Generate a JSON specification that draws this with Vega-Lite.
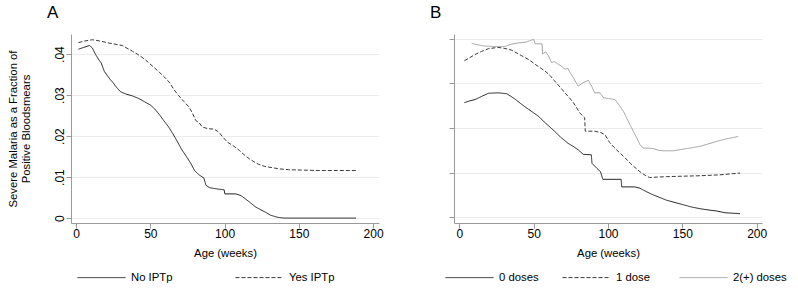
{
  "$schema": "https://vega.github.io/schema/vega-lite/v6.json",
  "background": "white",
  "padding": {"left": 7, "top": 4, "right": 0, "bottom": 0},
  "config": {
    "font": "Liberation Sans",
    "view": {"stroke": null},
    "axis": {
      "domainColor": "#9a9a9a",
      "tickColor": "#9a9a9a",
      "tickSize": 5,
      "labelColor": "#000000",
      "labelFontSize": 12,
      "titleColor": "#000000",
      "titleFontSize": 11.3,
      "titleFontWeight": "normal",
      "gridColor": "#ececec",
      "gridWidth": 1
    },
    "legend": {
      "labelFontSize": 11.3,
      "labelColor": "#000000"
    },
    "title": {"fontSize": 17, "fontWeight": "normal", "color": "#000000", "anchor": "start", "frame": "group"}
  },
  "datasets": {
    "a": [
      {"week": 1.6, "value": 0.0412, "group": "No IPTp"},
      {"week": 5, "value": 0.0416, "group": "No IPTp"},
      {"week": 9, "value": 0.0421, "group": "No IPTp"},
      {"week": 11, "value": 0.0415, "group": "No IPTp"},
      {"week": 13, "value": 0.04, "group": "No IPTp"},
      {"week": 15, "value": 0.0388, "group": "No IPTp"},
      {"week": 17, "value": 0.0378, "group": "No IPTp"},
      {"week": 19, "value": 0.0358, "group": "No IPTp"},
      {"week": 21, "value": 0.0348, "group": "No IPTp"},
      {"week": 23, "value": 0.0338, "group": "No IPTp"},
      {"week": 25, "value": 0.033, "group": "No IPTp"},
      {"week": 27, "value": 0.032, "group": "No IPTp"},
      {"week": 30, "value": 0.0308, "group": "No IPTp"},
      {"week": 34, "value": 0.0302, "group": "No IPTp"},
      {"week": 38, "value": 0.0298, "group": "No IPTp"},
      {"week": 42, "value": 0.0292, "group": "No IPTp"},
      {"week": 46, "value": 0.0284, "group": "No IPTp"},
      {"week": 50, "value": 0.0276, "group": "No IPTp"},
      {"week": 53, "value": 0.0266, "group": "No IPTp"},
      {"week": 56, "value": 0.0253, "group": "No IPTp"},
      {"week": 59, "value": 0.0238, "group": "No IPTp"},
      {"week": 62, "value": 0.0224, "group": "No IPTp"},
      {"week": 65, "value": 0.0207, "group": "No IPTp"},
      {"week": 68, "value": 0.0188, "group": "No IPTp"},
      {"week": 71, "value": 0.0168, "group": "No IPTp"},
      {"week": 74, "value": 0.0152, "group": "No IPTp"},
      {"week": 77, "value": 0.0135, "group": "No IPTp"},
      {"week": 80, "value": 0.0115, "group": "No IPTp"},
      {"week": 83, "value": 0.0105, "group": "No IPTp"},
      {"week": 86, "value": 0.0098, "group": "No IPTp"},
      {"week": 87.5, "value": 0.008, "group": "No IPTp"},
      {"week": 90, "value": 0.0074, "group": "No IPTp"},
      {"week": 95, "value": 0.0071, "group": "No IPTp"},
      {"week": 99.7, "value": 0.0069, "group": "No IPTp"},
      {"week": 100.2, "value": 0.0059, "group": "No IPTp"},
      {"week": 107.5, "value": 0.0059, "group": "No IPTp"},
      {"week": 111, "value": 0.0055, "group": "No IPTp"},
      {"week": 114, "value": 0.0047, "group": "No IPTp"},
      {"week": 117.5, "value": 0.0037, "group": "No IPTp"},
      {"week": 121, "value": 0.0027, "group": "No IPTp"},
      {"week": 124.5, "value": 0.002, "group": "No IPTp"},
      {"week": 127.7, "value": 0.0014, "group": "No IPTp"},
      {"week": 131, "value": 0.0007, "group": "No IPTp"},
      {"week": 135.6, "value": 0.0002, "group": "No IPTp"},
      {"week": 140, "value": 0.0, "group": "No IPTp"},
      {"week": 160, "value": 0.0, "group": "No IPTp"},
      {"week": 175, "value": 0.0, "group": "No IPTp"},
      {"week": 188.5, "value": 0.0, "group": "No IPTp"},
      {"week": 1.6, "value": 0.0428, "group": "Yes IPTp"},
      {"week": 6, "value": 0.0432, "group": "Yes IPTp"},
      {"week": 11, "value": 0.0435, "group": "Yes IPTp"},
      {"week": 16, "value": 0.0432, "group": "Yes IPTp"},
      {"week": 22, "value": 0.0427, "group": "Yes IPTp"},
      {"week": 31, "value": 0.0421, "group": "Yes IPTp"},
      {"week": 38, "value": 0.0407, "group": "Yes IPTp"},
      {"week": 43, "value": 0.0396, "group": "Yes IPTp"},
      {"week": 47, "value": 0.0385, "group": "Yes IPTp"},
      {"week": 52, "value": 0.0369, "group": "Yes IPTp"},
      {"week": 56, "value": 0.0356, "group": "Yes IPTp"},
      {"week": 59.5, "value": 0.0344, "group": "Yes IPTp"},
      {"week": 62.6, "value": 0.0332, "group": "Yes IPTp"},
      {"week": 66, "value": 0.0313, "group": "Yes IPTp"},
      {"week": 69, "value": 0.0299, "group": "Yes IPTp"},
      {"week": 72.5, "value": 0.0285, "group": "Yes IPTp"},
      {"week": 76, "value": 0.0271, "group": "Yes IPTp"},
      {"week": 78.5, "value": 0.0255, "group": "Yes IPTp"},
      {"week": 80.6, "value": 0.0238, "group": "Yes IPTp"},
      {"week": 83, "value": 0.0232, "group": "Yes IPTp"},
      {"week": 85, "value": 0.0222, "group": "Yes IPTp"},
      {"week": 89, "value": 0.0218, "group": "Yes IPTp"},
      {"week": 93, "value": 0.0217, "group": "Yes IPTp"},
      {"week": 96, "value": 0.021, "group": "Yes IPTp"},
      {"week": 99, "value": 0.0197, "group": "Yes IPTp"},
      {"week": 102, "value": 0.0185, "group": "Yes IPTp"},
      {"week": 106, "value": 0.0176, "group": "Yes IPTp"},
      {"week": 110, "value": 0.0165, "group": "Yes IPTp"},
      {"week": 113, "value": 0.0155, "group": "Yes IPTp"},
      {"week": 116.5, "value": 0.0145, "group": "Yes IPTp"},
      {"week": 120, "value": 0.0137, "group": "Yes IPTp"},
      {"week": 123, "value": 0.0131, "group": "Yes IPTp"},
      {"week": 127, "value": 0.0126, "group": "Yes IPTp"},
      {"week": 132, "value": 0.0123, "group": "Yes IPTp"},
      {"week": 137, "value": 0.012, "group": "Yes IPTp"},
      {"week": 143, "value": 0.0118, "group": "Yes IPTp"},
      {"week": 153, "value": 0.0117, "group": "Yes IPTp"},
      {"week": 164, "value": 0.0116, "group": "Yes IPTp"},
      {"week": 176, "value": 0.0116, "group": "Yes IPTp"},
      {"week": 188.5, "value": 0.0116, "group": "Yes IPTp"}
    ],
    "b": [
      {"week": 3.4, "value": 0.0257, "group": "0 doses"},
      {"week": 7, "value": 0.0261, "group": "0 doses"},
      {"week": 10.6, "value": 0.0264, "group": "0 doses"},
      {"week": 15, "value": 0.0271, "group": "0 doses"},
      {"week": 19.5, "value": 0.0278, "group": "0 doses"},
      {"week": 26, "value": 0.0279, "group": "0 doses"},
      {"week": 32, "value": 0.0277, "group": "0 doses"},
      {"week": 37, "value": 0.0266, "group": "0 doses"},
      {"week": 42, "value": 0.0253, "group": "0 doses"},
      {"week": 47, "value": 0.0241, "group": "0 doses"},
      {"week": 53, "value": 0.0227, "group": "0 doses"},
      {"week": 58, "value": 0.0211, "group": "0 doses"},
      {"week": 64, "value": 0.0193, "group": "0 doses"},
      {"week": 68, "value": 0.018, "group": "0 doses"},
      {"week": 73, "value": 0.0166, "group": "0 doses"},
      {"week": 77, "value": 0.0158, "group": "0 doses"},
      {"week": 80, "value": 0.0151, "group": "0 doses"},
      {"week": 83.4, "value": 0.0141, "group": "0 doses"},
      {"week": 88.8, "value": 0.014, "group": "0 doses"},
      {"week": 89.2, "value": 0.0121, "group": "0 doses"},
      {"week": 92.4, "value": 0.011, "group": "0 doses"},
      {"week": 95, "value": 0.0102, "group": "0 doses"},
      {"week": 96.5, "value": 0.0085, "group": "0 doses"},
      {"week": 108.8, "value": 0.0085, "group": "0 doses"},
      {"week": 109.2, "value": 0.0068, "group": "0 doses"},
      {"week": 118, "value": 0.0068, "group": "0 doses"},
      {"week": 121.5, "value": 0.0065, "group": "0 doses"},
      {"week": 126, "value": 0.0057, "group": "0 doses"},
      {"week": 130.5, "value": 0.005, "group": "0 doses"},
      {"week": 135, "value": 0.0044, "group": "0 doses"},
      {"week": 139.5, "value": 0.0038, "group": "0 doses"},
      {"week": 145, "value": 0.0033, "group": "0 doses"},
      {"week": 150.6, "value": 0.0028, "group": "0 doses"},
      {"week": 156, "value": 0.0023, "group": "0 doses"},
      {"week": 162, "value": 0.0019, "group": "0 doses"},
      {"week": 168, "value": 0.0016, "group": "0 doses"},
      {"week": 173, "value": 0.0014, "group": "0 doses"},
      {"week": 178.7, "value": 0.001, "group": "0 doses"},
      {"week": 188.8, "value": 0.0008, "group": "0 doses"},
      {"week": 3.4, "value": 0.0351, "group": "1 dose"},
      {"week": 7, "value": 0.0358, "group": "1 dose"},
      {"week": 10.6, "value": 0.0365, "group": "1 dose"},
      {"week": 15, "value": 0.0372, "group": "1 dose"},
      {"week": 19.5, "value": 0.0378, "group": "1 dose"},
      {"week": 26, "value": 0.0381, "group": "1 dose"},
      {"week": 30, "value": 0.0379, "group": "1 dose"},
      {"week": 35, "value": 0.0375, "group": "1 dose"},
      {"week": 42, "value": 0.0362, "group": "1 dose"},
      {"week": 47, "value": 0.0353, "group": "1 dose"},
      {"week": 51, "value": 0.0343, "group": "1 dose"},
      {"week": 57.6, "value": 0.0328, "group": "1 dose"},
      {"week": 61, "value": 0.0318, "group": "1 dose"},
      {"week": 64, "value": 0.0306, "group": "1 dose"},
      {"week": 68, "value": 0.0291, "group": "1 dose"},
      {"week": 71, "value": 0.0279, "group": "1 dose"},
      {"week": 74, "value": 0.0268, "group": "1 dose"},
      {"week": 76.7, "value": 0.0257, "group": "1 dose"},
      {"week": 79, "value": 0.0245, "group": "1 dose"},
      {"week": 81, "value": 0.0234, "group": "1 dose"},
      {"week": 84.3, "value": 0.0223, "group": "1 dose"},
      {"week": 84.7, "value": 0.0193, "group": "1 dose"},
      {"week": 91, "value": 0.0193, "group": "1 dose"},
      {"week": 95, "value": 0.019, "group": "1 dose"},
      {"week": 98, "value": 0.0185, "group": "1 dose"},
      {"week": 101, "value": 0.0168, "group": "1 dose"},
      {"week": 104, "value": 0.0157, "group": "1 dose"},
      {"week": 108, "value": 0.0144, "group": "1 dose"},
      {"week": 111.5, "value": 0.0133, "group": "1 dose"},
      {"week": 115, "value": 0.0121, "group": "1 dose"},
      {"week": 118, "value": 0.0112, "group": "1 dose"},
      {"week": 121.5, "value": 0.0102, "group": "1 dose"},
      {"week": 125, "value": 0.0094, "group": "1 dose"},
      {"week": 128, "value": 0.0089, "group": "1 dose"},
      {"week": 133, "value": 0.009, "group": "1 dose"},
      {"week": 139.5, "value": 0.0091, "group": "1 dose"},
      {"week": 150, "value": 0.0092, "group": "1 dose"},
      {"week": 162, "value": 0.0093, "group": "1 dose"},
      {"week": 175, "value": 0.0095, "group": "1 dose"},
      {"week": 188.8, "value": 0.0099, "group": "1 dose"},
      {"week": 8.3, "value": 0.039, "group": "2(+) doses"},
      {"week": 12, "value": 0.0387, "group": "2(+) doses"},
      {"week": 17, "value": 0.0384, "group": "2(+) doses"},
      {"week": 22, "value": 0.0383, "group": "2(+) doses"},
      {"week": 26, "value": 0.0383, "group": "2(+) doses"},
      {"week": 30.7, "value": 0.0383, "group": "2(+) doses"},
      {"week": 35, "value": 0.0388, "group": "2(+) doses"},
      {"week": 39.7, "value": 0.0391, "group": "2(+) doses"},
      {"week": 45, "value": 0.0393, "group": "2(+) doses"},
      {"week": 50, "value": 0.0399, "group": "2(+) doses"},
      {"week": 51, "value": 0.0389, "group": "2(+) doses"},
      {"week": 55.6, "value": 0.0389, "group": "2(+) doses"},
      {"week": 56, "value": 0.0366, "group": "2(+) doses"},
      {"week": 58, "value": 0.0371, "group": "2(+) doses"},
      {"week": 60, "value": 0.0362, "group": "2(+) doses"},
      {"week": 62, "value": 0.0347, "group": "2(+) doses"},
      {"week": 64, "value": 0.0349, "group": "2(+) doses"},
      {"week": 66.6, "value": 0.0343, "group": "2(+) doses"},
      {"week": 69, "value": 0.0338, "group": "2(+) doses"},
      {"week": 71, "value": 0.0332, "group": "2(+) doses"},
      {"week": 73, "value": 0.0334, "group": "2(+) doses"},
      {"week": 74.5, "value": 0.0324, "group": "2(+) doses"},
      {"week": 76.7, "value": 0.0313, "group": "2(+) doses"},
      {"week": 78.5, "value": 0.0302, "group": "2(+) doses"},
      {"week": 80, "value": 0.0294, "group": "2(+) doses"},
      {"week": 83.4, "value": 0.0302, "group": "2(+) doses"},
      {"week": 86.8, "value": 0.0307, "group": "2(+) doses"},
      {"week": 89, "value": 0.0294, "group": "2(+) doses"},
      {"week": 91, "value": 0.0279, "group": "2(+) doses"},
      {"week": 94.6, "value": 0.0279, "group": "2(+) doses"},
      {"week": 97, "value": 0.0268, "group": "2(+) doses"},
      {"week": 101, "value": 0.0266, "group": "2(+) doses"},
      {"week": 104.7, "value": 0.0264, "group": "2(+) doses"},
      {"week": 108, "value": 0.0249, "group": "2(+) doses"},
      {"week": 110.5, "value": 0.0237, "group": "2(+) doses"},
      {"week": 112.5, "value": 0.0223, "group": "2(+) doses"},
      {"week": 115, "value": 0.0206, "group": "2(+) doses"},
      {"week": 117, "value": 0.0193, "group": "2(+) doses"},
      {"week": 119.5, "value": 0.0177, "group": "2(+) doses"},
      {"week": 121.5, "value": 0.0163, "group": "2(+) doses"},
      {"week": 123.7, "value": 0.0155, "group": "2(+) doses"},
      {"week": 127, "value": 0.0155, "group": "2(+) doses"},
      {"week": 130.5, "value": 0.0154, "group": "2(+) doses"},
      {"week": 134, "value": 0.015, "group": "2(+) doses"},
      {"week": 137, "value": 0.0149, "group": "2(+) doses"},
      {"week": 144, "value": 0.0149, "group": "2(+) doses"},
      {"week": 153, "value": 0.0154, "group": "2(+) doses"},
      {"week": 162, "value": 0.0159, "group": "2(+) doses"},
      {"week": 173, "value": 0.017, "group": "2(+) doses"},
      {"week": 180, "value": 0.0176, "group": "2(+) doses"},
      {"week": 187.6, "value": 0.0181, "group": "2(+) doses"}
    ]
  },
  "spacing": 46,
  "resolve": {
    "scale": {"x": "independent", "y": "independent", "color": "independent", "strokeDash": "independent"},
    "legend": {"color": "independent", "strokeDash": "independent"}
  },
  "hconcat": [
    {
      "width": 308,
      "height": 189,
      "title": {"text": "A", "dx": -24, "offset": 12},
      "data": {"name": "a"},
      "mark": {"type": "line", "strokeWidth": 1},
      "encoding": {
        "x": {
          "field": "week", "type": "quantitative",
          "scale": {"domain": [-3.4, 204], "nice": false, "zero": false},
          "axis": {"values": [0, 50, 100, 150, 200], "title": "Age (weeks)", "grid": false, "labelPadding": 0, "titlePadding": 8}
        },
        "y": {
          "field": "value", "type": "quantitative",
          "scale": {"domain": [-0.0012, 0.0449], "nice": false, "zero": false},
          "axis": {
            "values": [0, 0.01, 0.02, 0.03, 0.04],
            "labelExpr": "datum.value == 0 ? '0' : replace(format(datum.value, '.2f'), '0.', '.')",
            "labelAngle": -90, "labelAlign": "center", "labelBaseline": "alphabetic", "labelPadding": 3,
            "title": ["Severe Malaria as a Fraction of", "Positive Bloodsmears"],
            "titlePadding": 22, "titleLineHeight": 12.5,
            "grid": true
          }
        },
        "color": {
          "field": "group", "type": "nominal",
          "scale": {"domain": ["No IPTp", "Yes IPTp"], "range": ["#1e1e1e", "#3a3a3a"]},
          "legend": {"title": null, "orient": "none", "legendX": 6, "legendY": 219, "direction": "horizontal", "symbolType": "stroke", "symbolSize": 2304, "symbolStrokeWidth": 1, "gridAlign": "all", "columnPadding": 56, "labelOffset": 5, "padding": 0}
        },
        "strokeDash": {
          "field": "group", "type": "nominal",
          "scale": {"domain": ["No IPTp", "Yes IPTp"], "range": [[1, 0], [4, 2]]},
          "legend": {"title": null, "orient": "none", "legendX": 6, "legendY": 219, "direction": "horizontal", "symbolType": "stroke", "symbolSize": 2304, "symbolStrokeWidth": 1, "gridAlign": "all", "columnPadding": 56, "labelOffset": 5, "padding": 0}
        }
      }
    },
    {
      "width": 308,
      "height": 189,
      "title": {"text": "B", "dx": -24, "offset": 12},
      "data": {"name": "b"},
      "mark": {"type": "line", "strokeWidth": 1},
      "encoding": {
        "x": {
          "field": "week", "type": "quantitative",
          "scale": {"domain": [-3.6, 203.6], "nice": false, "zero": false},
          "axis": {"values": [0, 50, 100, 150, 200], "title": "Age (weeks)", "grid": false, "labelPadding": 0, "titlePadding": 8}
        },
        "y": {
          "field": "value", "type": "quantitative",
          "scale": {"domain": [-0.0013, 0.0411], "nice": false, "zero": false},
          "axis": {"values": [0, 0.01, 0.02, 0.03, 0.04], "labels": false, "title": null, "grid": true}
        },
        "color": {
          "field": "group", "type": "nominal",
          "scale": {"domain": ["0 doses", "1 dose", "2(+) doses"], "range": ["#1e1e1e", "#3a3a3a", "#a0a0a0"]},
          "legend": {"title": null, "orient": "none", "legendX": -9, "legendY": 219, "direction": "horizontal", "symbolType": "stroke", "symbolSize": 2304, "symbolStrokeWidth": 1, "gridAlign": "all", "columnPadding": 7, "labelOffset": 5, "padding": 0}
        },
        "strokeDash": {
          "field": "group", "type": "nominal",
          "scale": {"domain": ["0 doses", "1 dose", "2(+) doses"], "range": [[1, 0], [4, 2], [1, 0]]},
          "legend": {"title": null, "orient": "none", "legendX": -9, "legendY": 219, "direction": "horizontal", "symbolType": "stroke", "symbolSize": 2304, "symbolStrokeWidth": 1, "gridAlign": "all", "columnPadding": 7, "labelOffset": 5, "padding": 0}
        }
      }
    }
  ]
}
